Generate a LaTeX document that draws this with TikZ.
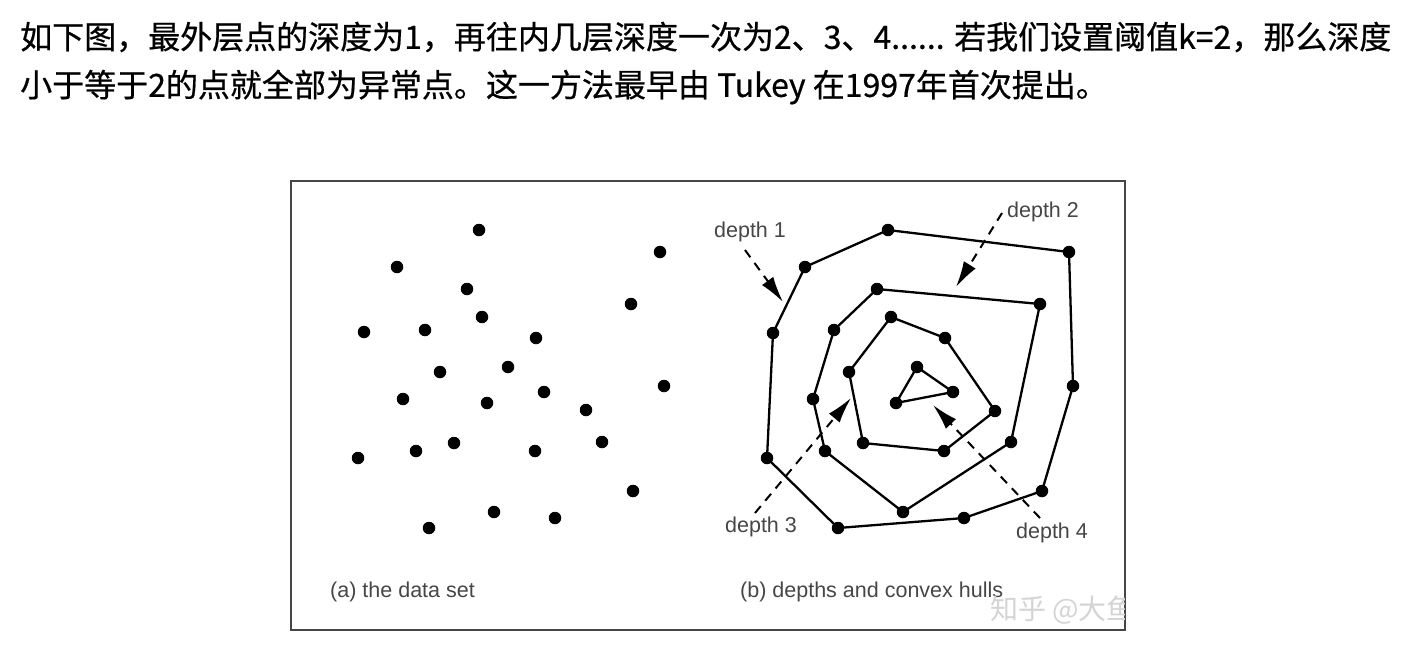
\documentclass[tikz,border=0pt]{standalone}
\usepackage{fontspec}
\setmainfont{Liberation Sans}
\newfontfamily\cjk{Noto Sans CJK SC}
\newfontfamily\cjkb[FakeBold=0.6]{Noto Sans CJK SC}
\usetikzlibrary{arrows.meta}

\definecolor{labelgray}{RGB}{70,70,70}
\definecolor{framegray}{RGB}{70,70,70}
\definecolor{markgray}{RGB}{212,212,212}

\tikzset{
  dot/.style={circle, fill=black, inner sep=0pt, minimum size=12.5pt},
  hull/.style={line width=2.3pt, line join=round},
  pointer/.style={line width=2pt, dash pattern=on 9pt off 7pt,
    -{Latex[length=26pt,width=14pt]}},
  lbl/.style={font=\fontsize{21.5}{24}\selectfont, text=labelgray, inner sep=0pt},
  intro/.style={anchor=west, inner sep=0pt, font=\cjkb\fontsize{32}{36}\selectfont},
}

\begin{document}
\begin{tikzpicture}[x=1pt, y=-1pt]
  \useasboundingbox (0,0) rectangle (1404,646);

  % intro text
  \node[intro] (line1) at (20,37) {如下图，最外层点的深度为1，再往内几层深度一次为2、3、4...... 若我们设置阈值k=2，那么深度};
  \node[intro] (line2) at (20,87) {小于等于2的点就全部为异常点。这一方法最早由 Tukey 在1997年首次提出。};

  % frame
  \draw[framegray, line width=2.6pt] (291,181) rectangle (1125,630);

  % (a) the raw data set
  \foreach \n/\x/\y in {1/479/230, 2/660/252, 3/397/267, 4/467/289, 5/631/304,
      6/482/317, 7/364/332, 8/425/330, 9/536/338, 10/440/372, 11/508/367,
      12/664/386, 13/403/399, 14/487/403, 15/544/392, 16/586/410, 17/358/458,
      18/416/451, 19/454/443, 20/535/451, 21/602/442, 22/633/491, 23/494/512,
      24/555/518, 25/429/528}
    \node[dot] (s\n) at (\x,\y) {};
  \node[lbl, anchor=west] (capa) at (330,592) {(a) the data set};

  % (b) depth layers
  \foreach \n/\x/\y in {1/888/230, 2/1069/252, 3/1073/386, 4/1042/491, 5/964/518,
      6/838/528, 7/767/458, 8/773/333, 9/805/267}
    \node[dot] (p1\n) at (\x,\y) {};
  \foreach \n/\x/\y in {1/877/289, 2/1040/304, 3/1011/442, 4/903/512, 5/825/451,
      6/813/399, 7/834/330}
    \node[dot] (p2\n) at (\x,\y) {};
  \foreach \n/\x/\y in {1/891/317, 2/945/338, 3/995/411, 4/944/451, 5/863/443,
      6/849/372}
    \node[dot] (p3\n) at (\x,\y) {};
  \foreach \n/\x/\y in {1/917/367, 2/953/392, 3/896/403}
    \node[dot] (p4\n) at (\x,\y) {};

  \draw[hull] (p11.center) -- (p12.center) -- (p13.center) -- (p14.center) -- (p15.center)
    -- (p16.center) -- (p17.center) -- (p18.center) -- (p19.center) -- cycle;
  \draw[hull] (p21.center) -- (p22.center) -- (p23.center) -- (p24.center) -- (p25.center)
    -- (p26.center) -- (p27.center) -- cycle;
  \draw[hull] (p31.center) -- (p32.center) -- (p33.center) -- (p34.center) -- (p35.center)
    -- (p36.center) -- cycle;
  \draw[hull] (p41.center) -- (p42.center) -- (p43.center) -- cycle;

  % depth labels and pointers
  \node[lbl] (dep1) at (750,232) {depth 1};
  \node[lbl] (dep2) at (1043,212) {depth 2};
  \node[lbl] (dep3) at (761,527) {depth 3};
  \node[lbl] (dep4) at (1052,533) {depth 4};

  \coordinate (tip1) at (783,302);
  \coordinate (tip2) at (956,287);
  \coordinate (tip3) at (851,398);
  \coordinate (tip4) at (933,405);

  \draw[pointer] (745,250) -- (tip1);
  \draw[pointer] (1002,213) -- (tip2);
  \draw[pointer] (755,513) -- (tip3);
  \draw[pointer] (1040,518) -- (tip4);

  \node[lbl, anchor=west] (capb) at (740,592) {(b) depths and convex hulls};

  % watermark
  \begin{scope}
    \clip (291,181) rectangle (1124,630);
    \node[anchor=west, inner sep=0pt, text=markgray, font=\cjk\fontsize{28}{32}\selectfont]
      (mark) at (990,610) {知乎 @大鱼};
  \end{scope}
\end{tikzpicture}
\end{document}
